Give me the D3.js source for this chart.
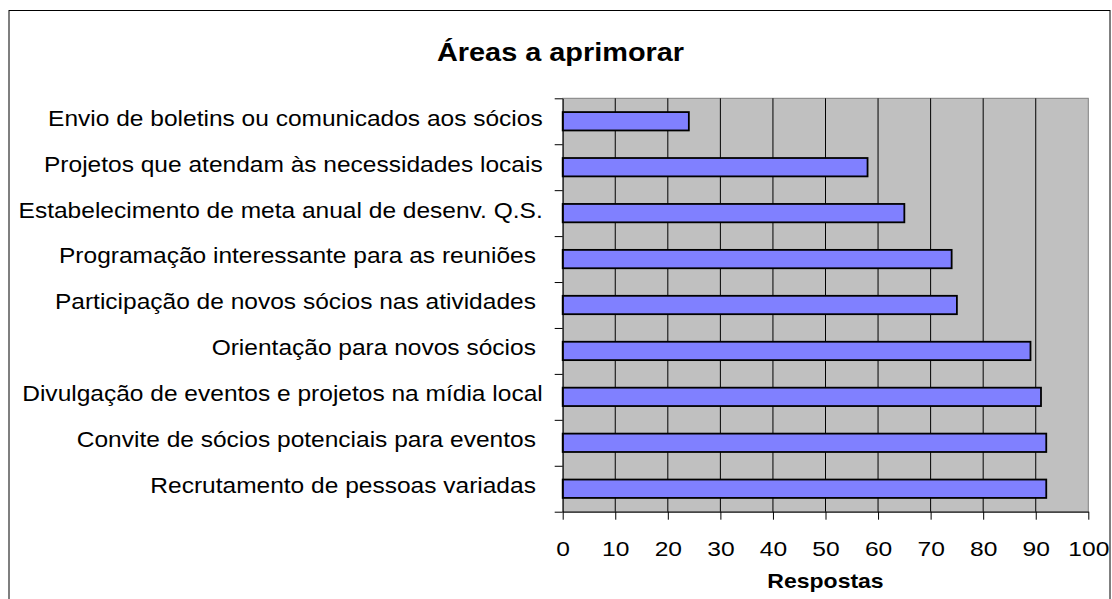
<!DOCTYPE html>
<html>
<head>
<meta charset="utf-8">
<script src="https://cdn.jsdelivr.net/npm/d3@7"></script>
<style>
  body { margin: 0; background: #fff; }
  text { font-family: "Liberation Sans", Arial, sans-serif; white-space: pre; }
</style>
</head>
<body>
<div id="chart"></div>
<script>
// categories top to bottom, some keep the trailing space from the original sheet
const categories = [
  "Envio de boletins ou comunicados aos sócios",
  "Projetos que atendam às necessidades locais",
  "Estabelecimento de meta anual de desenv. Q.S.",
  "Programação interessante para as reuniões ",
  "Participação de novos sócios nas atividades ",
  "Orientação para novos sócios ",
  "Divulgação de eventos e projetos na mídia local",
  "Convite de sócios potenciais para eventos ",
  "Recrutamento de pessoas variadas "
]
const respostas = [24, 58, 65, 74, 75, 89, 91, 92, 92]
const xTicks = [0, 10, 20, 30, 40, 50, 60, 70, 80, 90, 100]

const W = 1112, H = 599
const PLOT = { LEFT: 562.7, RIGHT: 1088.3, TOP: 98.3, BOTTOM: 511.7 }
// the original picture is a bit wider than tall, text looks stretched sideways
const LABEL_SX = 1.115, TICK_SX = 1.2

const svg = d3.select("#chart").append("svg")
  .attr("width", W)
  .attr("height", H)

// outer chart border
svg.append("rect")
  .attr("x", 9).attr("y", 10.5)
  .attr("width", 1101).attr("height", 600)
  .attr("fill", "#fff").attr("stroke", "#000").attr("stroke-width", 1)

// title
svg.append("g")
  .attr("transform", "translate(560.5,60.7) scale(1.09,1)")
  .append("text")
  .attr("text-anchor", "middle")
  .attr("font-size", 26.5).attr("font-weight", "bold")
  .text("Áreas a aprimorar")

const x = d3.scaleLinear().domain([0, 100]).range([PLOT.LEFT, PLOT.RIGHT])
const y = d3.scaleBand().domain(categories)
  .range([PLOT.TOP, PLOT.BOTTOM])
  .paddingInner(0.6).paddingOuter(0.3)
// boundaries between categories, for the y tick marks
const yEdge = d3.scaleLinear().domain([0, categories.length]).range([PLOT.TOP, PLOT.BOTTOM])

// plot area
svg.append("rect")
  .attr("x", PLOT.LEFT).attr("y", PLOT.TOP)
  .attr("width", PLOT.RIGHT - PLOT.LEFT).attr("height", PLOT.BOTTOM - PLOT.TOP)
  .attr("fill", "#c0c0c0").attr("stroke", "#808080").attr("stroke-width", 1)

// vertical gridlines
svg.append("g").selectAll("line")
  .data(xTicks.filter(d => d > 0 && d < 100))
  .enter().append("line")
  .attr("x1", d => x(d)).attr("x2", d => x(d))
  .attr("y1", PLOT.TOP).attr("y2", PLOT.BOTTOM)
  .attr("stroke", "#000").attr("stroke-width", 1)

// bars
svg.append("g").selectAll("rect")
  .data(categories)
  .enter().append("rect")
  .attr("x", x(0))
  .attr("y", d => y(d))
  .attr("width", (d, i) => x(respostas[i]) - x(0))
  .attr("height", y.bandwidth())
  .attr("fill", "#8080ff")
  .attr("stroke", "#000").attr("stroke-width", 1.8)

// y axis line + ticks at category edges
const yAxisG = svg.append("g")
  .attr("transform", "translate(" + PLOT.LEFT + ",0)")
  .call(d3.axisLeft(yEdge).tickValues(d3.range(categories.length + 1)).tickFormat("").tickSize(8).tickSizeOuter(0))
yAxisG.selectAll("line, path").attr("stroke", "#000")

// category labels
const labelG = svg.append("g")
  .attr("transform", "translate(" + PLOT.LEFT + ",0)")
  .call(d3.axisLeft(y).tickSize(0).tickPadding(20))
labelG.select(".domain").remove()
labelG.selectAll("text")
  .attr("font-family", "Liberation Sans, Arial, sans-serif")
  .attr("font-size", 22)
  .attr("fill", "#000")
  .attr("dy", "0.2em")
  .attr("x", -20 / LABEL_SX)
  .attr("transform", "scale(" + LABEL_SX + ",1)")

// x axis
const xAxisG = svg.append("g")
  .attr("transform", "translate(0," + PLOT.BOTTOM + ")")
  .call(d3.axisBottom(x).tickValues(xTicks).tickSize(8).tickSizeOuter(0).tickPadding(22))
xAxisG.selectAll("line, path").attr("stroke", "#000")
xAxisG.selectAll("text")
  .attr("font-family", "Liberation Sans, Arial, sans-serif")
  .attr("font-size", 20.5)
  .attr("fill", "#000")
  .attr("transform", "scale(" + TICK_SX + ",1)")

// x axis title
svg.append("g")
  .attr("transform", "translate(" + (PLOT.LEFT + PLOT.RIGHT) / 2 + ",588) scale(1.15,1)")
  .append("text")
  .attr("text-anchor", "middle")
  .attr("font-size", 20).attr("font-weight", "bold")
  .text("Respostas")
</script>
</body>
</html>
